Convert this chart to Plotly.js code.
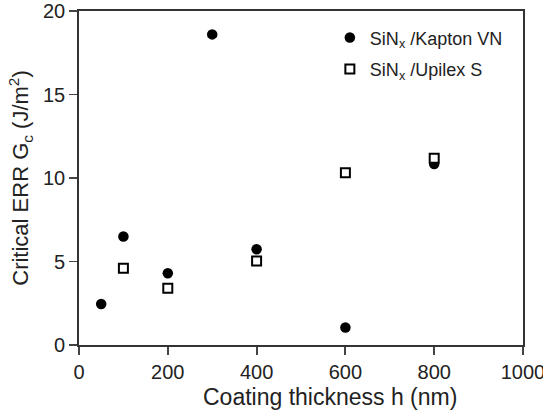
<!DOCTYPE html>
<html><head><meta charset="utf-8">
<script src="https://cdn.plot.ly/plotly-3.0.1.min.js"></script>
<style>html,body{margin:0;padding:0;background:#fff}#chart{width:543px;height:412px}</style>
</head><body><div id="chart"></div>
<script>
const kaptonX = [50, 100, 200, 300, 400, 600, 800];
const kaptonY = [2.45, 6.5, 4.3, 18.6, 5.73, 1.05, 10.84];
const upilexX = [100, 200, 400, 600, 800];
const upilexY = [4.6, 3.4, 5.03, 10.32, 11.18];
const xTicks = [0, 200, 400, 600, 800, 1000];
const yTicks = [0, 5, 10, 15, 20];

const font = "Liberation Sans, Arial, sans-serif";
const data = [
  {x: kaptonX, y: kaptonY, type: 'scatter', mode: 'markers', name: 'SiN<sub>x</sub> /Kapton VN',
   legendgroup: 'a', marker: {symbol: 'circle', size: 10.5, color: '#000'}},
  {x: upilexX, y: upilexY, type: 'scatter', mode: 'markers', name: 'SiN<sub>x</sub> /Upilex S',
   legendgroup: 'b', marker: {symbol: 'square', size: 9, color: '#fff', line: {width: 2, color: '#000'}}}
];
const layout = {
  width: 543, height: 412,
  margin: {l: 79, r: 20, t: 11, b: 67},
  paper_bgcolor: '#fff', plot_bgcolor: '#fff',
  font: {family: font, size: 20, color: '#222'},
  showlegend: true,
  legend: {x: 0.565, y: 0.975, xanchor: 'left', yanchor: 'top', font: {size: 18, color: '#222'},
           bgcolor: 'rgba(0,0,0,0)', itemwidth: 30, traceorder: 'grouped', tracegroupgap: 5},
  xaxis: {range: [0, 1000], tickvals: xTicks, ticks: 'outside', ticklen: 8, tickwidth: 1.8,
          showline: true, linecolor: '#333', linewidth: 1.8, mirror: true, showgrid: false, zeroline: false,
          ticklabeloverflow: 'allow',
          tickfont: {size: 20, color: '#222'}},
  yaxis: {range: [0, 20], tickvals: yTicks, ticks: 'outside', ticklen: 8, tickwidth: 1.8,
          showline: true, linecolor: '#333', linewidth: 1.8, mirror: true, showgrid: false, zeroline: false,
          tickfont: {size: 20, color: '#222'},
          title: {text: 'Critical ERR G<sub>c</sub> (J/m<sup>2</sup>)', font: {size: 22, color: '#222'}, standoff: 8}},
  annotations: [{text: 'Coating thickness h (nm)', xref: 'paper', yref: 'paper', x: 0.565, y: -0.155,
                 xanchor: 'center', yanchor: 'middle', showarrow: false, font: {size: 23, color: '#222'}}]
};
Plotly.newPlot('chart', data, layout, {displayModeBar: false, staticPlot: true});
</script></body></html>
